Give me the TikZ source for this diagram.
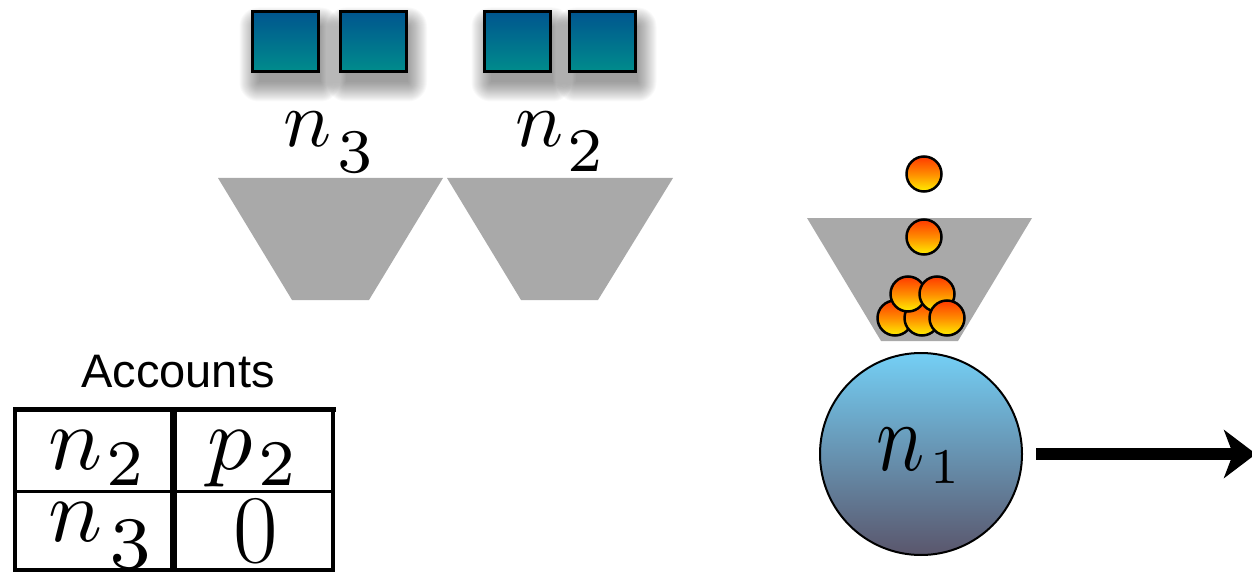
\documentclass[tikz,border=0pt]{standalone}
\usepackage{fontspec}
\newfontfamily\labelsans{Liberation Sans}
\usetikzlibrary{arrows.meta}
% make math italic letters scale freely
\DeclareFontShape{OML}{cmm}{m}{it}{<->cmmi10}{}

\definecolor{funnelgray}{HTML}{A9A9A9}
\definecolor{boxtop}{HTML}{00558F}
\definecolor{boxbot}{HTML}{008C8C}
\definecolor{balltop}{HTML}{FF3A00}
\definecolor{ballbot}{HTML}{FFF000}
\definecolor{nodetop}{HTML}{74CFF5}
\definecolor{nodebot}{HTML}{5A566C}

% index digit in the script-size roman face: size, digit
\newcommand\idxdigit[2]{{\font\idxface=cmr7 at #1pt\idxface #2}}
% letter with a lowered digit: letter, letter size, digit, digit size, drop, gap
\newcommand\symidx[6]{{\fontsize{#2}{#2}\selectfont$#1$}\kern#6pt\raisebox{-#5pt}{\idxdigit{#4}{#3}}}
% soft drop shadow behind a packet
\newcommand\softshadow[2]{%
  \foreach \k in {0,...,19}{%
    \fill[black, opacity=0.022, rounded corners=\k] (#1+4-31-\k, #2+13-28-\k) rectangle (#1+4+31+\k, #2+13+28+\k);}}

\tikzset{
  packet/.style={rectangle, draw=black, line width=3, minimum width=66, minimum height=60,
    inner sep=0, top color=boxtop, bottom color=boxbot},
  ball/.style={circle, draw=black, line width=2.5, minimum size=35, inner sep=0,
    top color=balltop, bottom color=ballbot, middle color=orange!90!yellow},
  funnel/.style={fill=funnelgray},
  tablerule/.style={line cap=rect, black},
  lbl/.style={inner sep=0, anchor=base west},
}

\begin{document}
\begin{tikzpicture}[x=1pt, y=-1pt]
\useasboundingbox (0,0) rectangle (1252,572);

% packets waiting at the upper queues
\softshadow{285.5}{41.5}
\softshadow{373}{41.5}
\softshadow{517.5}{41.5}
\softshadow{602.5}{41.5}
\node[packet] (sq1) at (285.5,41.5) {};
\node[packet] (sq2) at (373,41.5) {};
\node[packet] (sq3) at (517.5,41.5) {};
\node[packet] (sq4) at (602.5,41.5) {};

% queue labels
\node[lbl] (lbl3) at (283,147) {\symidx{n}{80}{3}{62}{26}{6}};
\node[lbl] (lbl2) at (515,147) {\symidx{n}{80}{2}{62}{25}{4}};

% funnels
\fill[funnel] (218,178) -- (443,178) -- (369,300) -- (292,300) -- cycle;
\fill[funnel] (447,178) -- (673,178) -- (598,300) -- (521,300) -- cycle;
\fill[funnel] (807,218) -- (1032,218) -- (958,341) -- (881,341) -- cycle;

% tokens falling into the funnel of n1
\node[ball] (b1) at (924,174) {};
\node[ball] (b2) at (924,237) {};
\node[ball] (b3) at (895,318) {};
\node[ball] (b4) at (922,318) {};
\node[ball] (b5) at (908,294) {};
\node[ball] (b6) at (937,294) {};
\node[ball] (b7) at (947,318) {};

% node n1 and its output link
\node[circle, draw=black, line width=2, minimum size=202, inner sep=0,
      top color=nodetop, bottom color=nodebot] (n1) at (921,454) {};
\node[lbl] (n1lbl) at (876,470) {\scalebox{0.82}[1]{\fontsize{98}{98}\selectfont$n$}\kern6pt\raisebox{-13pt}{\idxdigit{50}{1}}};
\coordinate (outflow) at (1256,454);
\draw[line width=12, shorten <=13pt, -{Stealth[length=32pt, width=48pt, inset=9pt]}] (n1) -- (outflow);

% accounts table
\node[inner sep=0, anchor=base] (acctitle) at (178,387) {\labelsans\fontsize{47}{47}\selectfont Accounts};
\draw[tablerule, line width=4.5] (15,409.5) -- (15,570);
\draw[tablerule, line width=5] (15,409.5) -- (333,409.5);
\draw[tablerule, line width=4.5] (333,409.5) -- (333,570);
\draw[tablerule, line width=4] (15,570) -- (333,570);
\draw[tablerule, line width=7, line cap=butt] (173.5,407) -- (173.5,572);
\draw[tablerule, line width=2.5, line cap=butt] (15,491.5) -- (333,491.5);

\node[lbl] (c11) at (48,469) {\symidx{n}{90}{2}{65}{16}{4}};
\node[lbl] (c12) at (207,469) {\symidx{p}{90}{2}{65}{16}{6}};
\node[lbl] (c21) at (48,541) {\symidx{n}{90}{3}{74}{27}{7}};
\node[inner sep=0, anchor=base] (c22) at (255.5,562) {\fontsize{97}{97}\selectfont 0};
\end{tikzpicture}
\end{document}
